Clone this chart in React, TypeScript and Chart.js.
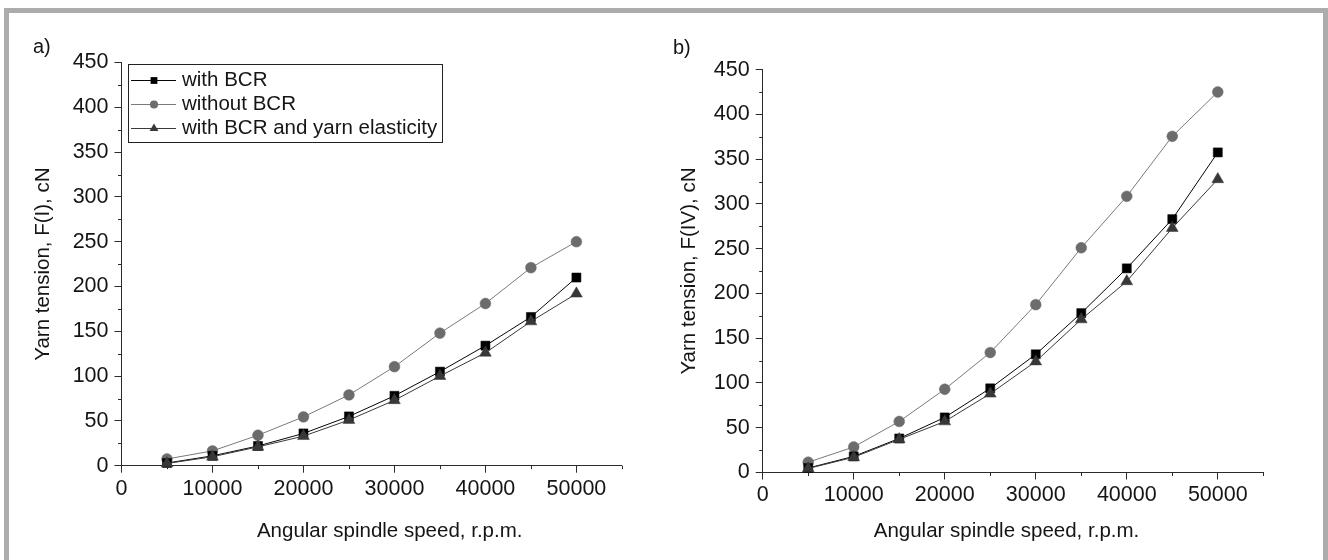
import React, { useEffect, useRef } from 'react';
import { Chart, registerables } from 'chart.js';

Chart.register(...registerables);

// ---------------- data ----------------
const speeds = [5000, 10000, 15000, 20000, 25000, 30000, 35000, 40000, 45000, 50000];

const seriesLabels = ['with BCR', 'without BCR', 'with BCR and yarn elasticity'];

// Panel a) : F(I)
const aWithBCR = [3, 11, 22, 36, 55, 78, 105, 134, 166, 210];
const aWithoutBCR = [7.5, 16.5, 34, 54.5, 79, 110.5, 148, 181, 221, 250];
const aElastic = [2.5, 10, 21, 33, 51, 73, 100, 126, 161, 192];

// Panel b) : F(IV)
const bWithBCR = [5, 18, 38, 61.5, 94, 132, 178, 228, 283, 357.5];
const bWithoutBCR = [11.5, 28.5, 57, 93, 134, 187.5, 251, 308.5, 375.5, 425];
const bElastic = [4.5, 17, 37, 57, 88, 124, 171, 213.5, 273, 327.5];

const xMajorTicks = [0, 10000, 20000, 30000, 40000, 50000];
const xMinorTicks = [5000, 15000, 25000, 35000, 45000, 55000];
const yMajorTicks = [0, 50, 100, 150, 200, 250, 300, 350, 400, 450];
const yMinorTicks = [25, 75, 125, 175, 225, 275, 325, 375, 425];

const xTitleText = 'Angular spindle speed, r.p.m.';

// ---------------- styles ----------------
const FONT = "'Liberation Sans', Arial, Helvetica, sans-serif";
const AXIS = '#2b2b2b';
const TEXT = '#151515';

function drawMarker(ctx: CanvasRenderingContext2D, style: string, x: number, y: number, r: number, color: string) {
  ctx.save();
  ctx.fillStyle = color;
  ctx.beginPath();
  if (style === 'rect') {
    const s = r * Math.SQRT1_2;
    ctx.rect(x - s, y - s, 2 * s, 2 * s);
  } else if (style === 'triangle') {
    const hw = (r * Math.sqrt(3)) / 2;
    ctx.moveTo(x, y - r);
    ctx.lineTo(x + hw, y + r / 2);
    ctx.lineTo(x - hw, y + r / 2);
    ctx.closePath();
  } else {
    ctx.arc(x, y, r, 0, Math.PI * 2);
  }
  ctx.fill();
  ctx.restore();
}

const minorTickPlugin = {
  id: 'minorTicks',
  afterDraw(chart: any) {
    const { ctx } = chart;
    const xs = chart.scales.x;
    const ys = chart.scales.y;
    ctx.save();
    ctx.strokeStyle = AXIS;
    ctx.lineWidth = 1;
    ctx.beginPath();
    xMinorTicks.forEach((v) => {
      const px = Math.round(xs.getPixelForValue(v)) + 0.5;
      ctx.moveTo(px, xs.top);
      ctx.lineTo(px, xs.top + 3.5);
    });
    yMinorTicks.forEach((v) => {
      const py = Math.round(ys.getPixelForValue(v)) + 0.5;
      ctx.moveTo(ys.right, py);
      ctx.lineTo(ys.right - 3.5, py);
    });
    ctx.stroke();
    ctx.restore();
  },
};

const xTitlePlugin = {
  id: 'xTitle',
  afterDraw(chart: any, _args: any, opts: any) {
    const { ctx, chartArea } = chart;
    ctx.save();
    ctx.font = `20.5px ${FONT}`;
    ctx.fillStyle = TEXT;
    ctx.textAlign = 'center';
    ctx.textBaseline = 'middle';
    ctx.fillText(opts.text, (chartArea.left + chartArea.right) / 2 + opts.offsetX, chart.height - opts.fromBottom);
    ctx.restore();
  },
};

const boxLegendPlugin = {
  id: 'boxLegend',
  afterDraw(chart: any, _args: any, opts: any) {
    if (!opts || !opts.display) return;
    const { ctx, chartArea } = chart;
    const left = Math.round(chartArea.left + opts.dx);
    const top = Math.round(chartArea.top + opts.dy);
    ctx.save();
    ctx.font = `20.5px ${FONT}`;
    const datasets = chart.data.datasets;
    const textW = Math.max(...datasets.map((d: any) => ctx.measureText(d.label).width));
    const w = Math.round(54 + textW + 5);
    const h = 78;
    ctx.fillStyle = '#ffffff';
    ctx.fillRect(left, top, w, h);
    ctx.strokeStyle = '#222';
    ctx.lineWidth = 1;
    ctx.strokeRect(left + 0.5, top + 0.5, w, h);
    datasets.forEach((d: any, i: number) => {
      const cy = Math.round(top + 16 + i * 24) + 0.5;
      ctx.strokeStyle = d.borderColor;
      ctx.lineWidth = 1;
      ctx.beginPath();
      ctx.moveTo(left + 3, cy);
      ctx.lineTo(left + 48, cy);
      ctx.stroke();
      drawMarker(ctx, d.pointStyle, left + 26, cy, d.pointRadius * 0.75, d.pointBackgroundColor);
      ctx.fillStyle = TEXT;
      ctx.textAlign = 'left';
      ctx.textBaseline = 'middle';
      ctx.fillText(d.label, left + 54, cy);
    });
    ctx.restore();
  },
};

function makeDatasets(withBCR: number[], withoutBCR: number[], elastic: number[]) {
  return [
    {
      label: seriesLabels[0],
      data: speeds.map((s, i) => ({ x: s, y: withBCR[i] })),
      borderColor: '#050505',
      backgroundColor: '#000000',
      pointBackgroundColor: '#000000',
      pointBorderColor: '#000000',
      pointStyle: 'rect',
      pointRadius: 6.4,
      pointBorderWidth: 0.5,
      borderWidth: 1,
      tension: 0,
      order: 1,
      clip: false,
    },
    {
      label: seriesLabels[1],
      data: speeds.map((s, i) => ({ x: s, y: withoutBCR[i] })),
      borderColor: '#7a7a7a',
      backgroundColor: '#6c6c6c',
      pointBackgroundColor: '#6c6c6c',
      pointBorderColor: '#6c6c6c',
      pointStyle: 'circle',
      pointRadius: 5.4,
      pointBorderWidth: 0.5,
      borderWidth: 1,
      tension: 0,
      order: 2,
      clip: false,
    },
    {
      label: seriesLabels[2],
      data: speeds.map((s, i) => ({ x: s, y: elastic[i] })),
      borderColor: '#3a3a3a',
      backgroundColor: '#383838',
      pointBackgroundColor: '#383838',
      pointBorderColor: '#383838',
      pointStyle: 'triangle',
      pointRadius: 6.8,
      pointBorderWidth: 0.5,
      borderWidth: 1,
      tension: 0,
      order: 0,
      clip: false,
    },
  ];
}

type PanelProps = {
  left: number;
  top: number;
  width: number;
  height: number;
  tag: string;
  yTitle: string;
  withBCR: number[];
  withoutBCR: number[];
  elastic: number[];
  yAxisWidth: number;
  xAxisHeight: number;
  padRight: number;
  titlePadTop: number;
  titlePadBottom: number;
  yTitlePad: number;
  xTitleOffset: number;
  showLegend: boolean;
};

function Panel(p: PanelProps) {
  const ref = useRef<HTMLCanvasElement | null>(null);
  useEffect(() => {
    if (!ref.current) return;
    const chart = new Chart(ref.current, {
      type: 'line',
      data: { datasets: makeDatasets(p.withBCR, p.withoutBCR, p.elastic) as any },
      options: {
        animation: false,
        responsive: false,
        devicePixelRatio: 1,
        layout: { autoPadding: false, padding: { left: 0, right: p.padRight, top: 0, bottom: 0 } },
        plugins: {
          legend: { display: false },
          tooltip: { enabled: false },
          title: {
            display: true,
            text: p.tag,
            align: 'start',
            color: TEXT,
            font: { size: 20, family: FONT, weight: 'normal', lineHeight: 1.2 },
            padding: { top: p.titlePadTop, bottom: p.titlePadBottom },
          },
          xTitle: { text: xTitleText, offsetX: p.xTitleOffset, fromBottom: 19 },
          boxLegend: { display: p.showLegend, dx: 6, dy: 1.5 },
        } as any,
        scales: {
          x: {
            type: 'linear',
            min: 0,
            max: 55000,
            afterBuildTicks: (s: any) => {
              s.ticks = xMajorTicks.map((v) => ({ value: v }));
            },
            afterFit: (s: any) => {
              s.height = p.xAxisHeight;
            },
            grid: { display: true, drawOnChartArea: false, drawTicks: true, tickLength: 7, color: AXIS, lineWidth: 1 },
            border: { display: true, color: AXIS, width: 1 },
            ticks: {
              autoSkip: false,
              maxRotation: 0,
              minRotation: 0,
              padding: 3,
              color: TEXT,
              font: { size: 21.5, family: FONT },
              callback: (v: any) => String(v),
            },
          },
          y: {
            type: 'linear',
            min: 0,
            max: 450,
            afterBuildTicks: (s: any) => {
              s.ticks = yMajorTicks.map((v) => ({ value: v }));
            },
            afterFit: (s: any) => {
              s.width = p.yAxisWidth;
            },
            grid: { display: true, drawOnChartArea: false, drawTicks: true, tickLength: 7, color: AXIS, lineWidth: 1 },
            border: { display: true, color: AXIS, width: 1 },
            ticks: {
              autoSkip: false,
              padding: 6,
              color: TEXT,
              font: { size: 21.5, family: FONT },
              callback: (v: any) => String(v),
            },
            title: {
              display: true,
              text: p.yTitle,
              color: TEXT,
              font: { size: 20.5, family: FONT, lineHeight: 1 },
              padding: { top: p.yTitlePad, bottom: 0 },
            },
          },
        },
      } as any,
      plugins: [minorTickPlugin, xTitlePlugin, boxLegendPlugin] as any,
    });
    return () => chart.destroy();
  }, []);
  return (
    <canvas
      ref={ref}
      width={p.width}
      height={p.height}
      style={{ position: 'absolute', left: p.left, top: p.top, width: p.width, height: p.height, display: 'block' }}
    />
  );
}

export default function App() {
  return (
    <div
      style={{
        position: 'fixed',
        left: 0,
        top: 0,
        width: 1328,
        height: 560,
        background: '#ffffff',
        overflow: 'hidden',
      }}
    >
      <div
        style={{
          position: 'absolute',
          left: 4,
          top: 8,
          width: 1324,
          height: 640,
          border: '5px solid #acacae',
          boxSizing: 'border-box',
        }}
      />
      <Panel
        left={33}
        top={20}
        width={627}
        height={530}
        tag="a)"
        yTitle="Yarn tension, F(I), cN"
        withBCR={aWithBCR}
        withoutBCR={aWithoutBCR}
        elastic={aElastic}
        yAxisWidth={88.5}
        xAxisHeight={84.3}
        padRight={38.1}
        titlePadTop={15.5}
        titlePadBottom={3}
        yTitlePad={0}
        xTitleOffset={18}
        showLegend={true}
      />
      <Panel
        left={673}
        top={20}
        width={645}
        height={530}
        tag="b)"
        yTitle="Yarn tension, F(IV), cN"
        withBCR={bWithBCR}
        withoutBCR={bWithoutBCR}
        elastic={bElastic}
        yAxisWidth={89.7}
        xAxisHeight={77.5}
        padRight={54.7}
        titlePadTop={16}
        titlePadBottom={9.6}
        yTitlePad={6}
        xTitleOffset={-6.5}
        showLegend={false}
      />
    </div>
  );
}
